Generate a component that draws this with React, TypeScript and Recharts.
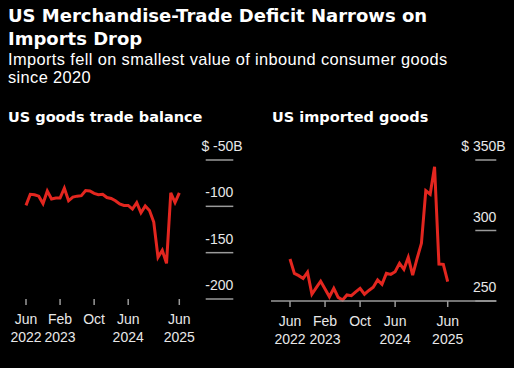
import React from 'react';
import { LineChart, Line, XAxis, YAxis } from 'recharts';

const months = [
  '2022-06', '2022-07', '2022-08', '2022-09', '2022-10', '2022-11', '2022-12',
  '2023-01', '2023-02', '2023-03', '2023-04', '2023-05', '2023-06', '2023-07',
  '2023-08', '2023-09', '2023-10', '2023-11', '2023-12', '2024-01', '2024-02',
  '2024-03', '2024-04', '2024-05', '2024-06', '2024-07', '2024-08', '2024-09',
  '2024-10', '2024-11', '2024-12', '2025-01', '2025-02', '2025-03', '2025-04',
  '2025-05', '2025-06',
];

const balance = [
  -99, -87, -87.5, -89, -97, -83.5, -92, -91, -91, -80.5, -94, -90, -89, -88.5,
  -83, -83.5, -86, -87.5, -87, -90.5, -91.5, -94, -97.5, -99, -99, -103, -96,
  -107, -99.5, -104.5, -117, -155, -147.5, -161.5, -85.5, -96, -85.5,
];

const imports = [
  279.8, 269.6, 268, 266, 270.4, 254.8, 259.5, 264, 258.5, 253, 259, 252.6,
  250.7, 254.3, 253.8, 256.5, 259, 254.8, 257.5, 259.7, 264.9, 261.8, 269.6,
  268.9, 270.8, 276.7, 272.5, 281, 268.4, 280, 290.9, 328.2, 325.7, 345.2,
  276.2, 276, 263.7,
];

const tickMonths = [0, 8, 16, 24, 36];
const tickTop = ['Jun', 'Feb', 'Oct', 'Jun', 'Jun'];
const tickBottom = ['2022', '2023', '', '2024', '2025'];

const balanceTicks = [-50, -100, -150, -200];
const importTicks = [250, 300, 350];

const balanceData = months.map((m, i) => ({ i, month: m, value: balance[i] }));
const importData = months.map((m, i) => ({ i, month: m, value: imports[i] }));

const FONT = '"Liberation Sans", Arial, sans-serif';
const BOLD_FONT = '"DejaVu Sans", Verdana, sans-serif';
const RED = '#e3261f';
const GRID = '#9a9a9a';
const TXT = '#e8e8e8';

function XTick(props: any) {
  const { x, y, payload } = props;
  const k = tickMonths.indexOf(payload.value);
  return (
    <text x={x} y={y} textAnchor="middle" fill={TXT} fontSize={14} fontFamily={FONT}>
      <tspan x={x} dy={17}>{tickTop[k]}</tspan>
      <tspan x={x} dy={18.3}>{tickBottom[k]}</tspan>
    </text>
  );
}

function makeYTick(len: number, top: number) {
  return function YTick(props: any) {
    const { x, y, payload } = props;
    const v = payload.value;
    const isTop = v === top;
    return (
      <g>
        <line x1={x - len} x2={x} y1={y} y2={y} stroke={GRID} strokeWidth={1.5} />
        <text x={x} y={y - 9} textAnchor="end" fill={TXT} fontSize={14} fontFamily={FONT}>
          {isTop ? `$ ${v}` : `${v}`}
        </text>
        {isTop ? (
          <text x={x} y={y - 9} textAnchor="start" fill={TXT} fontSize={14} fontFamily={FONT}>
            B
          </text>
        ) : null}
      </g>
    );
  };
}

const BalanceYTick = makeYTick(27.6, -50);
const ImportYTick = makeYTick(21, 350);

export default function App() {
  return (
    <div
      style={{
        position: 'absolute',
        left: 0,
        top: 0,
        width: 514,
        height: 368,
        background: '#000',
        overflow: 'hidden',
        fontFamily: FONT,
      }}
    >
      <div
        style={{
          position: 'absolute',
          left: 8,
          top: 3.5,
          color: '#fff',
          fontFamily: BOLD_FONT,
          fontWeight: 'bold',
          fontSize: 18,
          lineHeight: '23px',
          whiteSpace: 'nowrap',
        }}
      >
        US Merchandise-Trade Deficit Narrows on
        <br />
        Imports Drop
      </div>
      <div
        style={{
          position: 'absolute',
          left: 8,
          top: 49.5,
          color: '#fff',
          fontSize: 16.4,
          letterSpacing: 0.38,
          lineHeight: '18.5px',
          whiteSpace: 'nowrap',
        }}
      >
        Imports fell on smallest value of inbound consumer goods
        <br />
        since 2020
      </div>
      <div
        style={{
          position: 'absolute',
          left: 8,
          top: 106.7,
          color: '#fff',
          fontFamily: BOLD_FONT,
          fontWeight: 'bold',
          fontSize: 14.5,
          lineHeight: '20px',
          whiteSpace: 'nowrap',
        }}
      >
        US goods trade balance
      </div>
      <div
        style={{
          position: 'absolute',
          left: 272,
          top: 106.7,
          color: '#fff',
          fontFamily: BOLD_FONT,
          fontWeight: 'bold',
          fontSize: 14.5,
          lineHeight: '20px',
          whiteSpace: 'nowrap',
        }}
      >
        US imported goods
      </div>

      <div style={{ position: 'absolute', left: 0, top: 100 }}>
        <LineChart
          width={257}
          height={268}
          data={balanceData}
          margin={{ top: 60, right: 13.7, bottom: 0, left: 26 }}
        >
          <XAxis
            dataKey="i"
            type="number"
            domain={[0, 36]}
            ticks={tickMonths}
            interval={0}
            padding={{ left: 0, right: 54 }}
            axisLine={false}
            tickLine={{ stroke: GRID, strokeWidth: 1.5 }}
            tickSize={6}
            tickMargin={2}
            height={69}
            tick={<XTick />}
          />
          <YAxis
            orientation="right"
            type="number"
            domain={[-200, -50]}
            ticks={balanceTicks}
            interval={0}
            axisLine={false}
            tickLine={false}
            tickSize={0}
            tickMargin={0}
            width={10}
            tick={<BalanceYTick />}
          />
          <Line
            type="linear"
            dataKey="value"
            stroke={RED}
            strokeWidth={3}
            dot={false}
            isAnimationActive={false}
          />
        </LineChart>
      </div>

      <div style={{ position: 'absolute', left: 257, top: 100 }}>
        <LineChart
          width={257}
          height={268}
          data={importData}
          margin={{ top: 60, right: 7.7, bottom: 0, left: 14 }}
        >
          <XAxis
            dataKey="i"
            type="number"
            domain={[0, 36]}
            ticks={tickMonths}
            interval={0}
            padding={{ left: 19, right: 48.6 }}
            axisLine={{ stroke: GRID, strokeWidth: 1.5 }}
            tickLine={{ stroke: GRID, strokeWidth: 1.5 }}
            tickSize={6}
            tickMargin={2}
            height={67}
            tick={<XTick />}
          />
          <YAxis
            orientation="right"
            type="number"
            domain={[250, 350]}
            ticks={importTicks}
            interval={0}
            axisLine={false}
            tickLine={false}
            tickSize={0}
            tickMargin={0}
            width={10}
            tick={<ImportYTick />}
          />
          <Line
            type="linear"
            dataKey="value"
            stroke={RED}
            strokeWidth={3}
            dot={false}
            isAnimationActive={false}
          />
        </LineChart>
      </div>
    </div>
  );
}
